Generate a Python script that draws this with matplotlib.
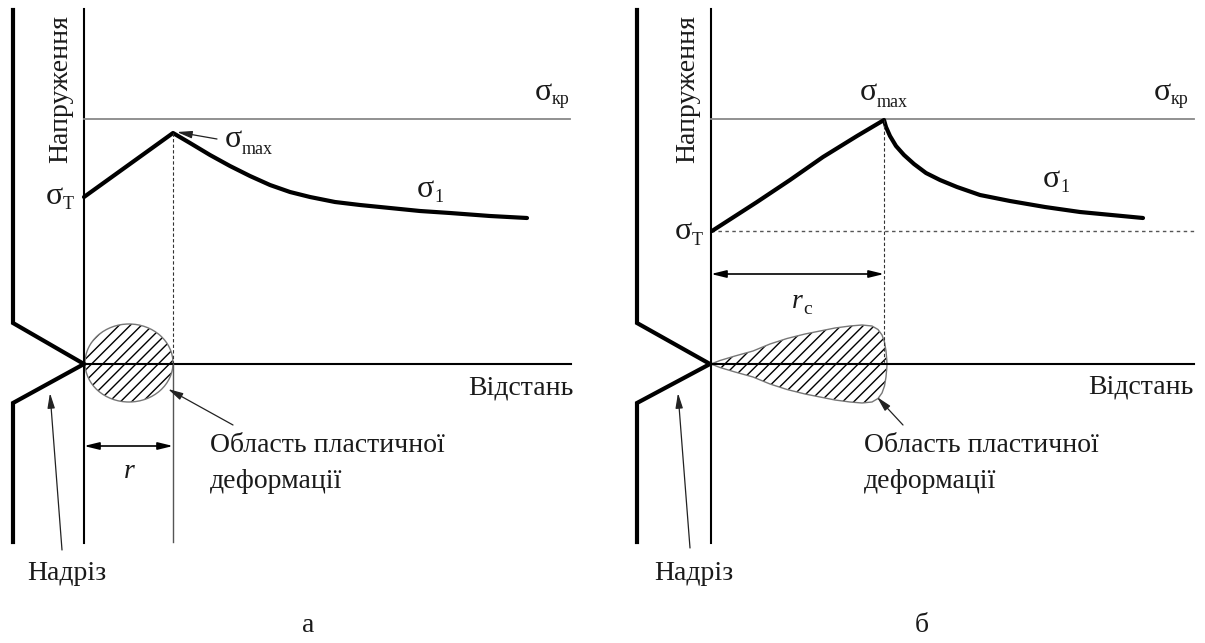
import matplotlib
matplotlib.use("Agg")
import matplotlib.pyplot as plt
from matplotlib.patches import Ellipse, Polygon

plt.rcParams['font.family'] = ['Liberation Serif', 'DejaVu Serif']

# --- дані (координати в пікселях рисунка) ---
# панель а
notch_a_x = [13, 13, 84, 13, 13]
notch_a_y = [10, 323, 364, 403, 542]
curve_a_x = [84, 173, 190, 210, 230, 250, 270, 290, 310, 335, 360, 390, 420, 450, 490, 527]
curve_a_y = [197, 133, 143, 155, 166, 176, 185, 192, 197, 202, 205, 208, 211, 213, 216, 218]
axis_a_x = 84
peak_a_x = 173
zone_a = (129, 363, 88, 78)   # центр x, y, ширина, висота

# панель б
notch_b_x = [637, 637, 710, 637, 637]
notch_b_y = [10, 323, 364, 403, 542]
curve_b_x = [712, 757, 790, 823, 857, 884, 886, 890, 896, 904, 914, 926, 940, 957, 980, 1010, 1045, 1080, 1143]
curve_b_y = [231, 202, 180, 157, 136, 120, 127, 136, 146, 155, 164, 173, 180, 187, 195, 201, 207, 212, 218]
axis_b_x = 711
peak_b_x = 884
drop_x = [711, 720, 735, 753, 770, 787, 805, 820, 835, 850, 862, 872, 878, 882, 884.5, 886, 886.8]
drop_h = [0, 3.5, 8, 13, 20, 25.5, 30, 33, 36, 38, 39, 38, 34.5, 29, 22, 13, 4]

y_axis = 364
y_cr = 120
y_t_b = 231

fig = plt.figure(figsize=(12.05, 6.43), dpi=100)
ax = fig.add_axes([0, 0, 1, 1])
ax.set_xlim(0, 1205)
ax.set_ylim(643, 0)
ax.axis('off')

FS = 20
TC = '#1a1a1a'


def sigma(x, y, sub, dy=5, sfs=13):
    ax.text(x, y, 'σ', fontsize=23, color=TC, ha='left', va='baseline')
    ax.text(x + 17, y + dy, sub, fontsize=sfs, color=TC, ha='left', va='baseline')


def arrow(tip, tail):
    ax.annotate('', xy=tip, xytext=tail,
                arrowprops=dict(arrowstyle='-|>,head_length=0.9,head_width=0.22',
                                lw=0.9, color='#222', shrinkA=0, shrinkB=0))


def dim(x0, x1, y):
    ax.annotate('', xy=(x1, y), xytext=(x0, y),
                arrowprops=dict(arrowstyle='<|-|>,head_length=0.9,head_width=0.22',
                                lw=1.2, color='k', shrinkA=0, shrinkB=0))


# ================= а =================
ax.plot(notch_a_x, notch_a_y, color='k', lw=3, solid_joinstyle='miter')
ax.plot([axis_a_x, axis_a_x], [9, 543], color='k', lw=1.5)
ax.add_patch(Ellipse(zone_a[:2], zone_a[2], zone_a[3], facecolor='none', edgecolor='k', lw=0, hatch='///'))
ax.add_patch(Ellipse(zone_a[:2], zone_a[2], zone_a[3], facecolor='none', edgecolor='#777', lw=1))
ax.plot([axis_a_x, 571], [y_axis, y_axis], color='k', lw=1.5)
ax.plot([axis_a_x, 570], [y_cr - 1, y_cr - 1], color='#888', lw=1.3)
ax.plot(curve_a_x, curve_a_y, color='k', lw=3, solid_capstyle='round')
ax.plot([peak_a_x, peak_a_x], [133, y_axis], color='#333', lw=0.8, ls=(0, (3, 2)))
ax.plot([peak_a_x, peak_a_x], [y_axis, 542], color='#555', lw=1)
dim(axis_a_x, peak_a_x, 446)
arrow((177, 132), (217, 139))
arrow((168, 389), (233, 425))
arrow((50, 393), (62, 550))

ax.text(61, 89, 'Напруження', rotation=90, fontsize=FS, color=TC, ha='center', va='center')
sigma(535, 100, 'кр', dy=4)
sigma(225, 147, 'max', dy=7)
sigma(417, 197, '1', dy=5)
sigma(46, 204, 'Т', dy=5)
ax.text(574, 388, 'Відстань', fontsize=FS, color=TC, ha='right', va='center')
ax.text(210, 446, 'Область пластичної', fontsize=FS, color=TC, ha='left', va='center')
ax.text(210, 482, 'деформації', fontsize=FS, color=TC, ha='left', va='center')
ax.text(129, 471, 'r', fontsize=FS, style='italic', color=TC, ha='center', va='center')
ax.text(27, 573, 'Надріз', fontsize=FS, color=TC, ha='left', va='center')
ax.text(308, 625, 'а', fontsize=FS, color=TC, ha='center', va='center')

# ================= б =================
ax.plot(notch_b_x, notch_b_y, color='k', lw=3, solid_joinstyle='miter')
ax.plot([axis_b_x, axis_b_x], [9, 543], color='k', lw=1.5)
pts = [(x, y_axis - h) for x, h in zip(drop_x, drop_h)] + [(887, y_axis)] + \
      [(x, y_axis + h) for x, h in zip(drop_x[::-1], drop_h[::-1])]
ax.add_patch(Polygon(pts, closed=True, facecolor='none', edgecolor='k', lw=0, hatch='///'))
ax.add_patch(Polygon(pts, closed=True, facecolor='none', edgecolor='#777', lw=1))
ax.plot([axis_b_x, 1194], [y_axis, y_axis], color='k', lw=1.5)
ax.plot([axis_b_x, 1194], [y_cr - 1, y_cr - 1], color='#888', lw=1.3)
ax.plot([axis_b_x, 1194], [y_t_b, y_t_b], color='#555', lw=1, ls=(0, (2.5, 2.5)))
ax.plot(curve_b_x, curve_b_y, color='k', lw=3, solid_capstyle='round')
ax.plot([peak_b_x, peak_b_x], [120, y_axis], color='#333', lw=0.8, ls=(0, (3, 2)))
dim(axis_b_x, peak_b_x, 274)
arrow((877, 397), (903, 425))
arrow((678, 393), (690, 548))

ax.text(688, 89, 'Напруження', rotation=90, fontsize=FS, color=TC, ha='center', va='center')
sigma(1154, 100, 'кр', dy=4)
sigma(860, 100, 'max', dy=7)
sigma(1043, 187, '1', dy=5)
sigma(675, 239, 'Т', dy=6)
ax.text(1194, 387, 'Відстань', fontsize=FS, color=TC, ha='right', va='center')
ax.text(864, 446, 'Область пластичної', fontsize=FS, color=TC, ha='left', va='center')
ax.text(864, 482, 'деформації', fontsize=FS, color=TC, ha='left', va='center')
ax.text(792, 302, 'r', fontsize=FS, style='italic', color=TC, ha='left', va='center')
ax.text(803, 310, 'с', fontsize=14, color=TC, ha='left', va='center')
ax.text(654, 573, 'Надріз', fontsize=FS, color=TC, ha='left', va='center')
ax.text(922, 625, 'б', fontsize=FS, color=TC, ha='center', va='center')

fig.savefig('out.png', dpi=100, facecolor='white')
